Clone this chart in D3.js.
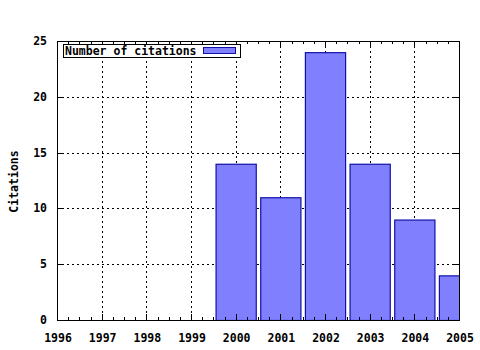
<!DOCTYPE html>
<html><head><meta charset="utf-8">
<script src="https://cdn.jsdelivr.net/npm/d3@7"></script>
<style>
body{margin:0;background:#fff;}
text{font-family:"DejaVu Sans Mono",monospace;font-weight:bold;font-size:11.5px;fill:#000;}
</style></head>
<body><svg id="c" width="480" height="350"></svg>
<script>
const years = [2000, 2001, 2002, 2003, 2004, 2005];
const citations = [14, 11, 24, 14, 9, 4];
const xTicks = [1996, 1997, 1998, 1999, 2000, 2001, 2002, 2003, 2004, 2005];
const yTicks = [0, 5, 10, 15, 20, 25];
const seriesName = "Number of citations";
const yTitle = "Citations";

const svg = d3.select("#c");
const L = 57, R = 459, T = 41, B = 320;
const x = d3.scaleLinear().domain([1996, 2005]).range([L, R]);
const y = d3.scaleLinear().domain([0, 25]).range([B, T]);

// grid
const grid = svg.append("g").attr("stroke", "#000").attr("stroke-dasharray", "2,3").attr("stroke-width", 1);
xTicks.slice(1, -1).forEach(v => grid.append("line").attr("x1", Math.round(x(v)) + 0.5).attr("x2", Math.round(x(v)) + 0.5).attr("y1", T).attr("y2", B));
yTicks.slice(1, -1).forEach(v => grid.append("line").attr("y1", Math.round(y(v)) + 0.5).attr("y2", Math.round(y(v)) + 0.5).attr("x1", L).attr("x2", R));

// bars
svg.append("clipPath").attr("id", "pc").append("rect").attr("x", L).attr("y", T).attr("width", R - L).attr("height", B - T);
const bw = 0.9;
svg.append("g").attr("clip-path", "url(#pc)").selectAll("rect").data(years).join("rect")
  .attr("x", d => x(d - bw / 2) + 0.5)
  .attr("width", d => x(d + bw / 2) - x(d - bw / 2))
  .attr("y", (d, i) => y(citations[i]) + 0.5)
  .attr("height", (d, i) => y(0) - y(citations[i]))
  .attr("fill", "#8080ff").attr("stroke", "#1010a8").attr("stroke-width", 1.2);

// axes with inward ticks
const ax = svg.append("g").attr("stroke", "#000").attr("stroke-width", 1);
const minor = [];
for (let v = 1996; v < 2005; v += 1) for (let k = 1; k < 4; k++) minor.push(v + k / 4);
minor.forEach(v => {
  const px = Math.round(x(v)) + 0.5;
  ax.append("line").attr("x1", px).attr("x2", px).attr("y1", B).attr("y2", B - 3);
  ax.append("line").attr("x1", px).attr("x2", px).attr("y1", T).attr("y2", T + 3);
});
xTicks.forEach(v => {
  const px = Math.round(x(v)) + 0.5;
  ax.append("line").attr("x1", px).attr("x2", px).attr("y1", B).attr("y2", B - 6);
  ax.append("line").attr("x1", px).attr("x2", px).attr("y1", T).attr("y2", T + 6);
});
yTicks.forEach(v => {
  const py = Math.round(y(v)) + 0.5;
  ax.append("line").attr("x1", L).attr("x2", L + 6).attr("y1", py).attr("y2", py);
  ax.append("line").attr("x1", R).attr("x2", R - 6).attr("y1", py).attr("y2", py);
});
ax.append("rect").attr("x", L + 0.5).attr("y", T + 0.5).attr("width", R - L).attr("height", B - T).attr("fill", "none");

// tick labels
svg.append("g").selectAll("text").data(xTicks).join("text")
  .attr("x", d => x(d) + 1).attr("y", B + 22).attr("text-anchor", "middle").text(d => d);
svg.append("g").selectAll("text").data(yTicks).join("text")
  .attr("x", L - 10).attr("y", d => y(d) + 4).attr("text-anchor", "end").text(d => d);

svg.append("text").attr("transform", `translate(18,${(T + B) / 2 + 1}) rotate(-90)`).attr("text-anchor", "middle").text(yTitle);

// legend
svg.append("rect").attr("x", 63.5).attr("y", 44.5).attr("width", 177).attr("height", 13).attr("fill", "#fff").attr("stroke", "#000");
svg.append("text").attr("x", 65).attr("y", 55).text(seriesName);
svg.append("rect").attr("x", 203.5).attr("y", 47.5).attr("width", 32).attr("height", 6).attr("fill", "#8080ff").attr("stroke", "#1010a8");
</script></body></html>
